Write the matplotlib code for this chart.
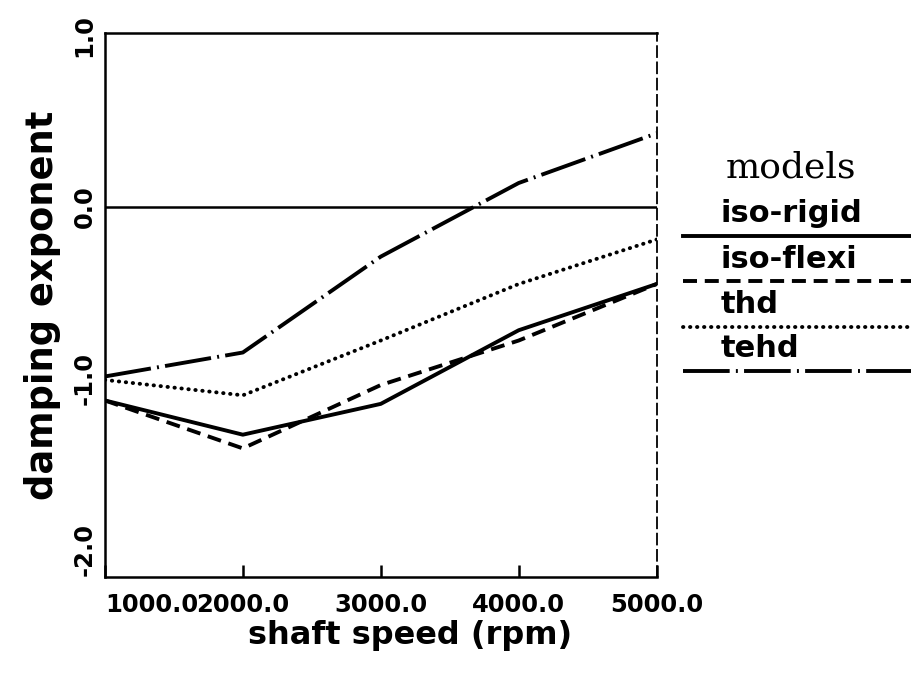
import matplotlib
matplotlib.use("Agg")
import matplotlib.pyplot as plt
from matplotlib.lines import Line2D

# shaft speed (rpm) and damping exponent for each bearing model
speed = [1000, 2000, 3000, 4000, 5000]
iso_rigid = [-1.13, -1.33, -1.15, -0.72, -0.45]
iso_flexi = [-1.13, -1.41, -1.04, -0.78, -0.45]
thd = [-1.01, -1.10, -0.78, -0.45, -0.19]
tehd = [-0.99, -0.85, -0.29, 0.14, 0.43]
zero_level = 0.0

models = ['iso-rigid', 'iso-flexi', 'thd', 'tehd']
xtick_labels = ['1000.0', '2000.0', '3000.0', '4000.0', '5000.0']
yticks = [-2.0, -1.0, 0.0, 1.0]
ytick_labels = ['-2.0', '-1.0', '0.0', '1.0']

plt.rcParams['font.family'] = ['DejaVu Sans']

lw = 2.8
styles = {
    'iso-rigid': dict(ls='-'),
    'iso-flexi': dict(ls=(0, (3.6, 2.0))),
    'thd': dict(ls=(0, (0.1, 1.7)), dash_capstyle='round'),
    'tehd': dict(ls=(0, (12, 1.6, 0.5, 1.6))),
}

fig = plt.figure(figsize=(9.12, 6.77), dpi=100)
ax = fig.add_axes([0.115, 0.148, 0.605, 0.803])

ax.axhline(zero_level, color='black', lw=1.8)
for name, vals in zip(models, [iso_rigid, iso_flexi, thd, tehd]):
    ax.plot(speed, vals, color='black', lw=lw, **styles[name])

ax.set_xlim(1000, 5000)
ax.set_ylim(-2.16, 1.015)

ax.set_xticks(speed)
ax.set_xticklabels(xtick_labels, fontsize=17.5, fontweight='bold')
ax.get_xticklabels()[0].set_ha('left')
ax.tick_params(axis='x', direction='in', length=8.5, width=1.8, pad=12)

ax.set_yticks(yticks)
ax.set_yticklabels(ytick_labels, fontsize=17.5, fontweight='bold',
                   rotation=90, va='center')
ax.tick_params(axis='y', length=0, pad=6)

ax.set_xlabel('shaft speed (rpm)', fontsize=23, fontweight='bold', labelpad=4)
ax.xaxis.set_label_coords(0.553, -0.08)
ax.set_ylabel('damping exponent', fontsize=26.5, fontweight='bold', labelpad=8)

for side in ['left', 'bottom', 'top']:
    ax.spines[side].set_linewidth(1.8)
ax.spines['right'].set_linewidth(1.3)
ax.spines['right'].set_linestyle((0, (6, 3)))

# hand-made legend: title, then each name sitting on its line sample
fig.text(0.796, 1 - 177 / 677, 'models', family='DejaVu Serif',
         fontsize=26, va='baseline', ha='left')
text_y = [222, 268, 313, 357]
line_y = [236, 281, 327, 371]
for name, ty, ly in zip(models, text_y, line_y):
    fig.text(0.790, 1 - ty / 677, name, fontsize=22, fontweight='bold',
             va='baseline', ha='left')
    fig.add_artist(Line2D([0.749, 1.0], [1 - ly / 677, 1 - ly / 677],
                          transform=fig.transFigure, color='black', lw=lw,
                          **styles[name]))

fig.savefig('out.png', dpi=100)
